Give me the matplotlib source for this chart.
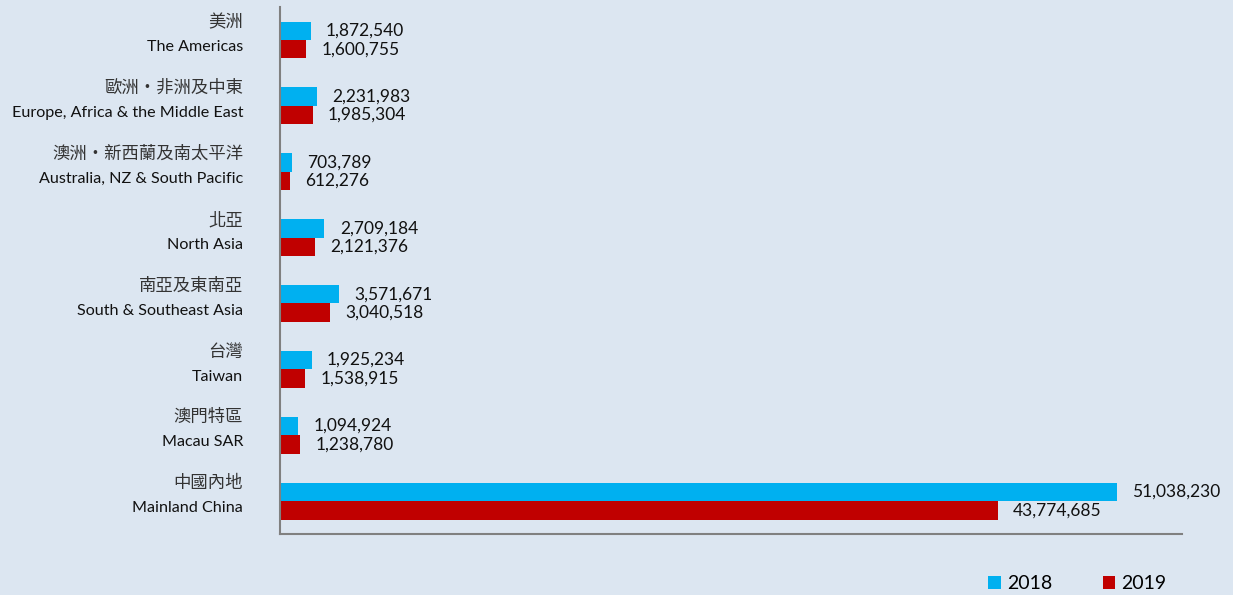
import matplotlib.pyplot as plt
import numpy as np

plt.rcParams['font.family'] = ['Lato', 'Noto Sans CJK TC', 'DejaVu Sans']

regions_zh = ["美洲", "歐洲‧非洲及中東", "澳洲‧新西蘭及南太平洋", "北亞",
              "南亞及東南亞", "台灣", "澳門特區", "中國內地"]
regions_en = ["The Americas", "Europe, Africa & the Middle East",
              "Australia, NZ & South Pacific", "North Asia",
              "South & Southeast Asia", "Taiwan", "Macau SAR", "Mainland China"]
visitors_2018 = [1872540, 2231983, 703789, 2709184, 3571671, 1925234, 1094924, 51038230]
visitors_2019 = [1600755, 1985304, 612276, 2121376, 3040518, 1538915, 1238780, 43774685]

bg = '#dce6f1'
c2018 = '#00b0f0'
c2019 = '#c00000'

fig = plt.figure(figsize=(12.33, 5.95), dpi=100, facecolor=bg)
ax = fig.add_axes([0.2271, 0.1025, 0.7315, 0.8857])
ax.set_facecolor(bg)

y = np.arange(len(regions_en))
h = 0.28
ax.barh(y - h / 2, visitors_2018, height=h, color=c2018, label='2018')
ax.barh(y + h / 2, visitors_2019, height=h, color=c2019, label='2019')

trans = ax.get_yaxis_transform()
for i in range(len(y)):
    ax.annotate(f"{visitors_2018[i]:,}", (visitors_2018[i], y[i] - h / 2),
                xytext=(11, 0), textcoords='offset points', va='center',
                ha='left', fontsize=12.5, color='#111111')
    ax.annotate(f"{visitors_2019[i]:,}", (visitors_2019[i], y[i] + h / 2),
                xytext=(11, 0), textcoords='offset points', va='center',
                ha='left', fontsize=12.5, color='#111111')
    ax.text(-0.041, y[i] - 0.27, regions_zh[i], transform=trans, ha='right',
            va='center', fontsize=12.5, color='#333333')
    ax.text(-0.041, y[i] + 0.11, regions_en[i], transform=trans, ha='right',
            va='center', fontsize=11.6, color='#111111')

ax.set_xlim(0, 55.0e6)
ax.set_ylim(len(y) - 0.5, -0.5)
ax.set_xticks([])
ax.set_yticks([])
for s in ['top', 'right']:
    ax.spines[s].set_visible(False)
for s in ['left', 'bottom']:
    ax.spines[s].set_color('#808080')
    ax.spines[s].set_linewidth(1.5)

fig.legend(loc='lower right', bbox_to_anchor=(0.960, -0.025), ncol=2,
           frameon=False, fontsize=14, handlelength=0.65, handleheight=0.65,
           columnspacing=2.6, handletextpad=0.3)

fig.savefig('out.png', dpi=100, facecolor=bg)
